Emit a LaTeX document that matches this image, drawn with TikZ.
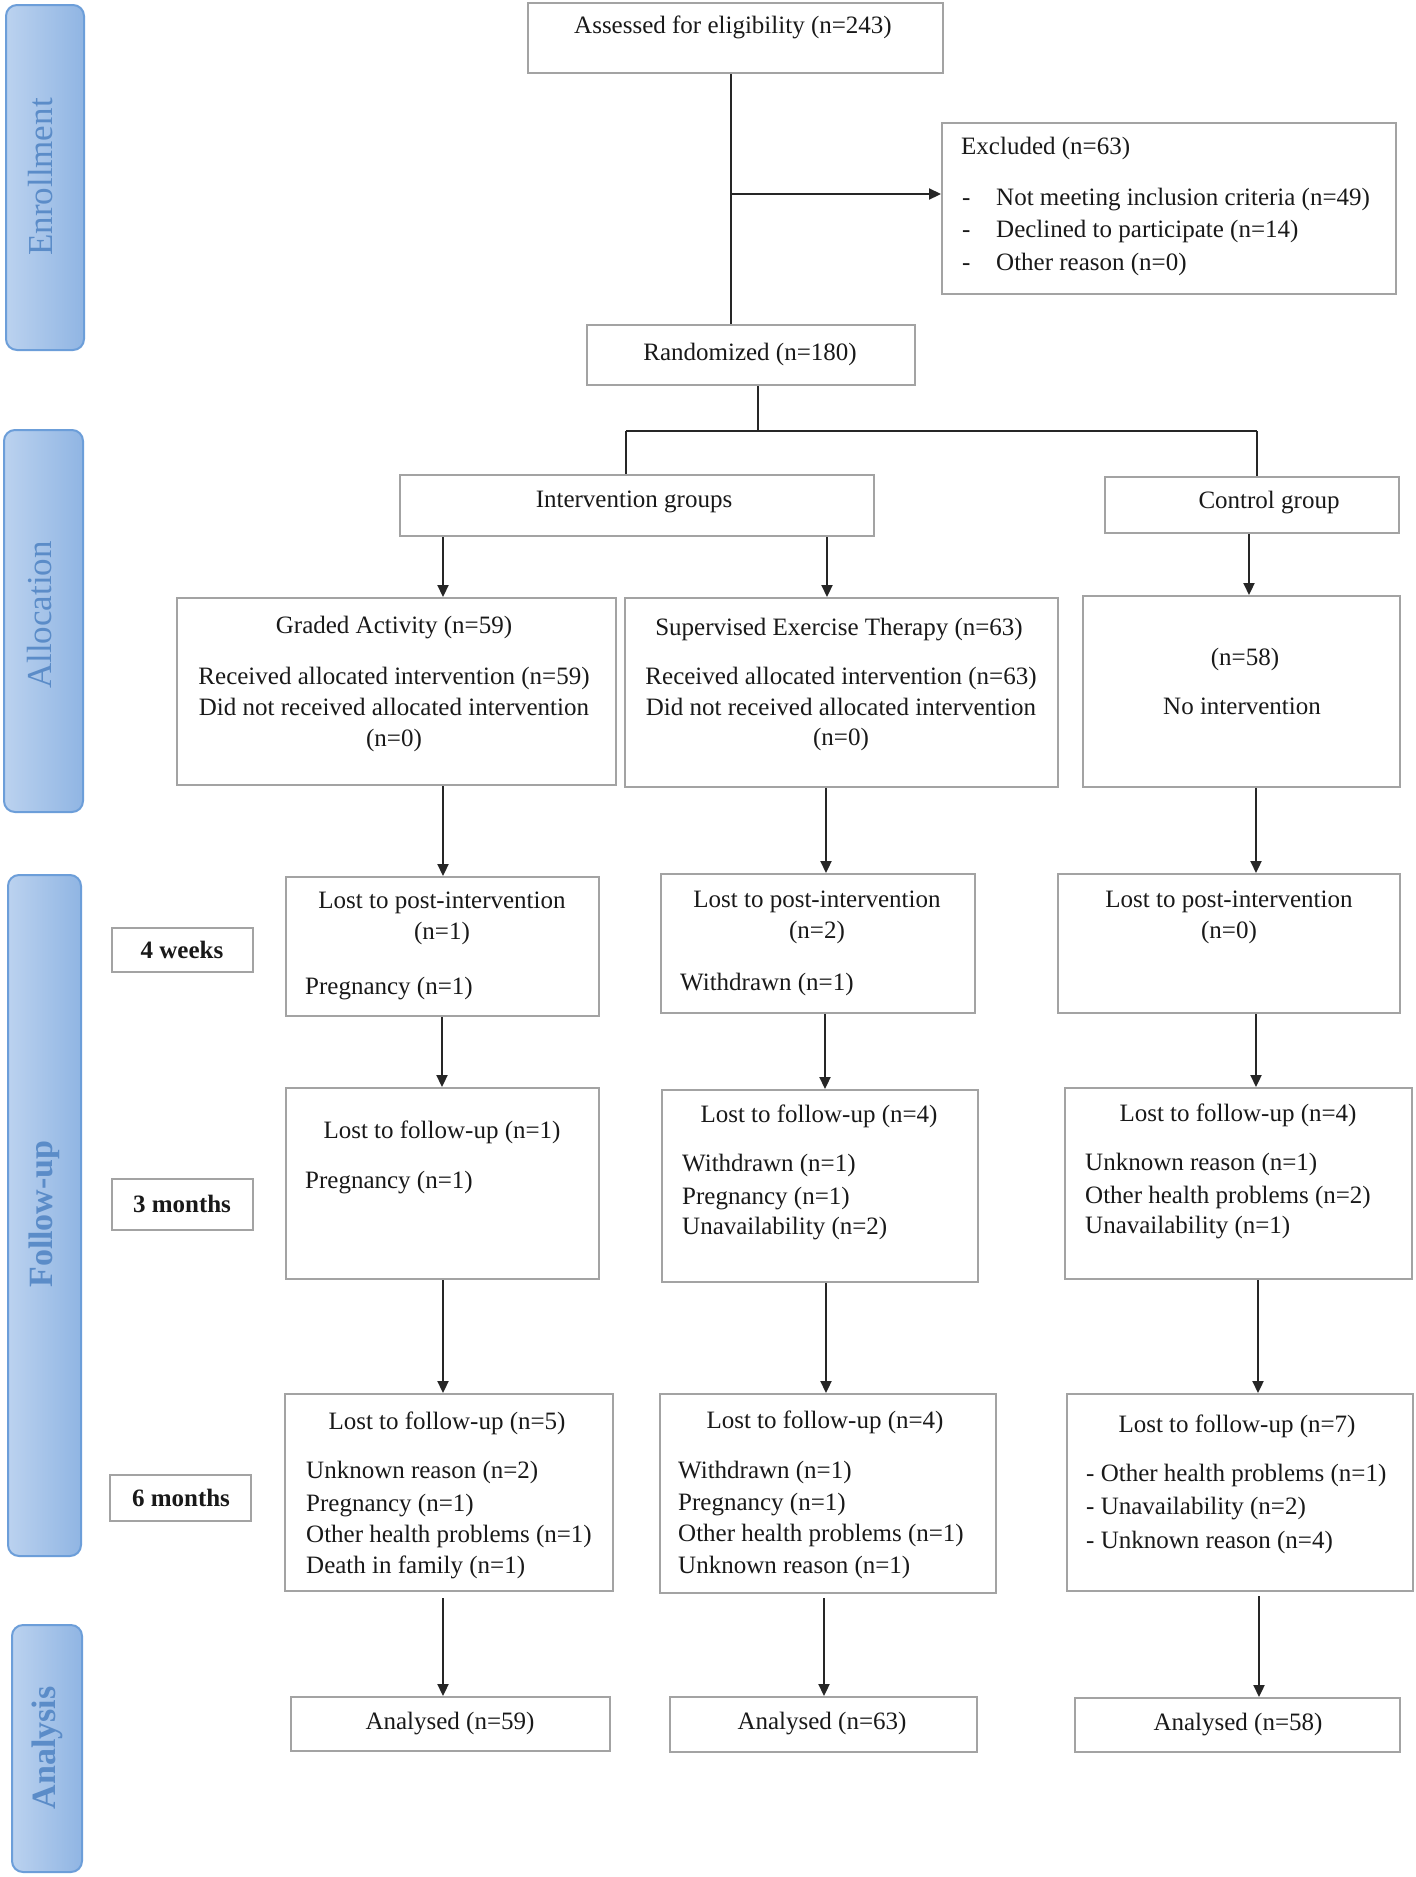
\documentclass[tikz,border=0pt]{standalone}
\usepackage{fontspec}
\setmainfont{Liberation Serif}
\usetikzlibrary{arrows.meta,fit}
\definecolor{sideL}{HTML}{BBD2EF}
\definecolor{sideR}{HTML}{90B5E3}
\definecolor{sideB}{HTML}{6C9ED9}
\definecolor{sideT}{HTML}{5B8CC8}
\definecolor{boxgray}{HTML}{A3A3A3}
\begin{document}
\begin{tikzpicture}[x=1pt,y=-1pt,
  box/.style={draw=boxgray, line width=2pt, rectangle, inner sep=0pt},
  side/.style={draw=sideB, line width=2pt, rounded corners=11pt, left color=sideL, right color=sideR, inner sep=0pt},
  sidetxt/.style={rotate=90, text=sideT, font=\fontsize{35}{40}\selectfont, inner sep=0pt, text height=22pt, text depth=0pt},
  lbl/.style={font=\fontsize{25}{30}\selectfont, inner sep=0pt, text height=16pt, text depth=0pt, text=black!90},
  lbll/.style={lbl, anchor=west},
  tlbl/.style={lbl, font=\fontsize{25}{30}\selectfont\bfseries},
  ln/.style={line width=2.2pt, draw=black!85},
  arr/.style={ln, -{Triangle[length=12pt,width=11pt]}}]
\useasboundingbox (0,0) rectangle (1416,1877);
\fill[white] (0,0) rectangle (1416,1877);

% side bars
\node[side, fit={(6,5) (84,350)}] (enr) {};
\node[sidetxt] (enrt) at (41,177) {Enrollment};
\node[side, fit={(4,430) (83,812)}] (alloc) {};
\node[sidetxt] (alloct) at (40,615) {Allocation};
\node[side, fit={(8,875) (81,1556)}] (fu) {};
\node[sidetxt, font=\fontsize{34}{40}\selectfont\bfseries] (fut) at (41,1214) {Follow-up};
\node[side, fit={(12,1625) (82,1872)}] (ana) {};
\node[sidetxt, font=\fontsize{34}{40}\selectfont\bfseries] (anat) at (44,1748) {Analysis};

% enrollment
\node[box, fit={(528,3) (943,73)}] (assess) {};
\node[lbl] (assesst) at (733,25) {Assessed for eligibility (n=243)};
\node[box, fit={(942,123) (1396,294)}] (excl) {};
\node[lbll] (exclt) at (961,146) {Excluded (n=63)};
\node[lbll] (exd1) at (962,197) {-};
\node[lbll] (exd2) at (962,229) {-};
\node[lbll] (exd3) at (962,262) {-};
\node[lbll] (ex1) at (996,197) {Not meeting inclusion criteria (n=49)};
\node[lbll] (ex2) at (996,229) {Declined to participate (n=14)};
\node[lbll] (ex3) at (996,262) {Other reason (n=0)};
\node[box, fit={(587,325) (915,385)}] (rand) {};
\node[lbl] (randt) at (750,352) {Randomized (n=180)};

% allocation
\node[box, fit={(400,475) (874,536)}] (intv) {};
\node[lbl] (intvt) at (634,499) {Intervention groups};
\node[box, fit={(1105,477) (1399,533)}] (ctrl) {};
\node[lbl] (ctrlt) at (1269,500) {Control group};

\node[box, fit={(177,598) (616,785)}] (ga) {};
\node[lbl] (ga1) at (394,625) {Graded Activity (n=59)};
\node[lbl] (ga2) at (394,676) {Received allocated intervention (n=59)};
\node[lbl] (ga3) at (394,707) {Did not received allocated intervention};
\node[lbl] (ga4) at (394,738) {(n=0)};

\node[box, fit={(625,598) (1058,787)}] (set) {};
\node[lbl] (set1) at (839,627) {Supervised Exercise Therapy (n=63)};
\node[lbl] (set2) at (841,676) {Received allocated intervention (n=63)};
\node[lbl] (set3) at (841,707) {Did not received allocated intervention};
\node[lbl] (set4) at (841,737) {(n=0)};

\node[box, fit={(1083,596) (1400,787)}] (cn) {};
\node[lbl] (cn1) at (1245,657) {(n=58)};
\node[lbl] (cn2) at (1242,706) {No intervention};

% time labels
\node[box, fit={(112,928) (253,972)}] (w4) {};
\node[tlbl] (w4t) at (182,950) {4 weeks};
\node[box, fit={(112,1179) (253,1230)}] (m3) {};
\node[tlbl] (m3t) at (182,1204) {3 months};
\node[box, fit={(110,1475) (251,1521)}] (m6) {};
\node[tlbl] (m6t) at (181,1498) {6 months};

% post-intervention row
\node[box, fit={(286,877) (599,1016)}] (p1) {};
\node[lbl] (p1a) at (442,900) {Lost to post-intervention};
\node[lbl] (p1b) at (442,931) {(n=1)};
\node[lbll] (p1c) at (305,986) {Pregnancy (n=1)};

\node[box, fit={(661,874) (975,1013)}] (p2) {};
\node[lbl] (p2a) at (817,899) {Lost to post-intervention};
\node[lbl] (p2b) at (817,930) {(n=2)};
\node[lbll] (p2c) at (680,982) {Withdrawn (n=1)};

\node[box, fit={(1058,874) (1400,1013)}] (p3) {};
\node[lbl] (p3a) at (1229,899) {Lost to post-intervention};
\node[lbl] (p3b) at (1229,930) {(n=0)};

% 3 months row
\node[box, fit={(286,1088) (599,1279)}] (f1) {};
\node[lbl] (f1a) at (442,1130) {Lost to follow-up (n=1)};
\node[lbll] (f1b) at (305,1180) {Pregnancy (n=1)};

\node[box, fit={(662,1090) (978,1282)}] (f2) {};
\node[lbl] (f2a) at (819,1114) {Lost to follow-up (n=4)};
\node[lbll] (f2b) at (682,1163) {Withdrawn (n=1)};
\node[lbll] (f2c) at (682,1196) {Pregnancy (n=1)};
\node[lbll] (f2d) at (682,1226) {Unavailability (n=2)};

\node[box, fit={(1065,1088) (1412,1279)}] (f3) {};
\node[lbl] (f3a) at (1238,1113) {Lost to follow-up (n=4)};
\node[lbll] (f3b) at (1085,1162) {Unknown reason (n=1)};
\node[lbll] (f3c) at (1085,1195) {Other health problems (n=2)};
\node[lbll] (f3d) at (1085,1225) {Unavailability (n=1)};

% 6 months row
\node[box, fit={(285,1394) (613,1591)}] (s1) {};
\node[lbl] (s1a) at (447,1421) {Lost to follow-up (n=5)};
\node[lbll] (s1b) at (306,1470) {Unknown reason (n=2)};
\node[lbll] (s1c) at (306,1503) {Pregnancy (n=1)};
\node[lbll] (s1d) at (306,1534) {Other health problems (n=1)};
\node[lbll] (s1e) at (306,1565) {Death in family (n=1)};

\node[box, fit={(660,1394) (996,1593)}] (s2) {};
\node[lbl] (s2a) at (825,1420) {Lost to follow-up (n=4)};
\node[lbll] (s2b) at (678,1470) {Withdrawn (n=1)};
\node[lbll] (s2c) at (678,1502) {Pregnancy (n=1)};
\node[lbll] (s2d) at (678,1533) {Other health problems (n=1)};
\node[lbll] (s2e) at (678,1565) {Unknown reason (n=1)};

\node[box, fit={(1067,1394) (1413,1591)}] (s3) {};
\node[lbl] (s3a) at (1237,1424) {Lost to follow-up (n=7)};
\node[lbll] (s3b) at (1086,1473) {- Other health problems (n=1)};
\node[lbll] (s3c) at (1086,1506) {- Unavailability (n=2)};
\node[lbll] (s3d) at (1086,1540) {- Unknown reason (n=4)};

% analysis
\node[box, fit={(291,1697) (610,1751)}] (a1) {};
\node[lbl] (a1t) at (450,1721) {Analysed (n=59)};
\node[box, fit={(670,1697) (977,1752)}] (a2) {};
\node[lbl] (a2t) at (822,1721) {Analysed (n=63)};
\node[box, fit={(1075,1698) (1400,1752)}] (a3) {};
\node[lbl] (a3t) at (1238,1722) {Analysed (n=58)};

% connectors
\draw[ln] (731,0 |- assess.south) -- (731,0 |- rand.north);
\coordinate (j1) at (731,194);
\draw[arr] (j1) -- (j1 -| excl.west);
\coordinate (bm) at (758,431);
\draw[ln] (758,0 |- rand.south) -- (bm);
\coordinate (bl) at (626,431);
\coordinate (br) at (1257,431);
\draw[ln] (bl) -- (br);
\draw[ln] (bl) -- (bl |- intv.north);
\draw[ln] (br) -- (br |- ctrl.north);

\draw[arr] (443,0 |- intv.south) -- (443,0 |- ga.north);
\draw[arr] (827,0 |- intv.south) -- (827,0 |- set.north);
\draw[arr] (1249,0 |- ctrl.south) -- (1249,0 |- cn.north);

\draw[arr] (443,0 |- ga.south) -- (443,0 |- p1.north);
\draw[arr] (826,0 |- set.south) -- (826,0 |- p2.north);
\draw[arr] (1256,0 |- cn.south) -- (1256,0 |- p3.north);

\draw[arr] (442,0 |- p1.south) -- (442,0 |- f1.north);
\draw[arr] (825,0 |- p2.south) -- (825,0 |- f2.north);
\draw[arr] (1256,0 |- p3.south) -- (1256,0 |- f3.north);

\draw[arr] (443,0 |- f1.south) -- (443,0 |- s1.north);
\draw[arr] (826,0 |- f2.south) -- (826,0 |- s2.north);
\draw[arr] (1258,0 |- f3.south) -- (1258,0 |- s3.north);

\draw[arr] (443,1598) -- (443,0 |- a1.north);
\draw[arr] (824,1598) -- (824,0 |- a2.north);
\draw[arr] (1259,1596) -- (1259,0 |- a3.north);
\end{tikzpicture}
\end{document}
